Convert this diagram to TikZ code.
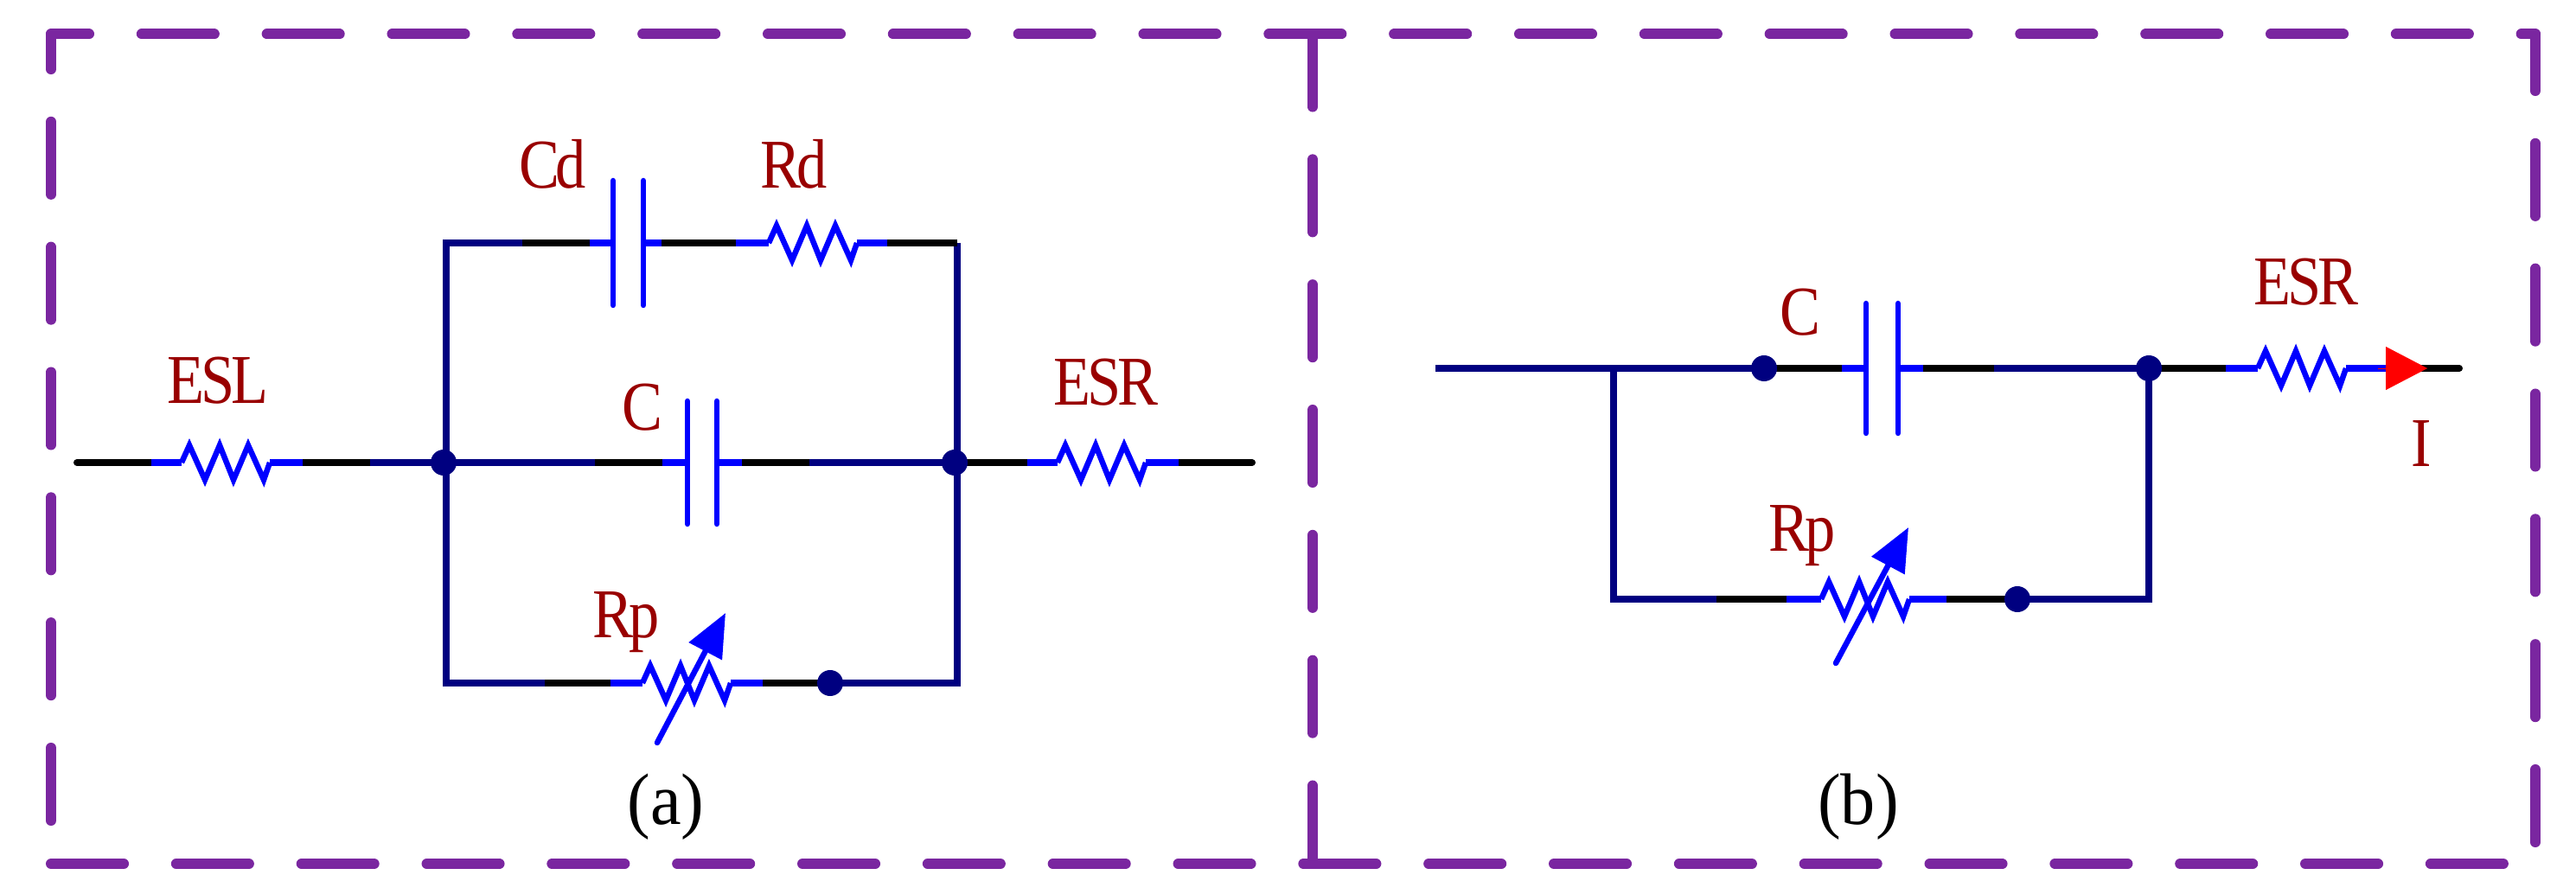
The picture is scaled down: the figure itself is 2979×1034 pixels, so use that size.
\documentclass[tikz,border=0pt]{standalone}
\usepackage{fontspec}
\setmainfont{Liberation Serif}
\newfontfamily\lblfont[LetterSpace=-6]{Liberation Serif}
\usetikzlibrary{arrows.meta}
\definecolor{framepurple}{RGB}{122,38,160}
\definecolor{wirenavy}{RGB}{0,0,128}
\definecolor{lblred}{RGB}{153,0,0}
\tikzset{
   framedash/.style={draw=framepurple,line width=0.12cm,line cap=round,dash pattern=on 0.84cm off 0.6075cm},
   wirek/.style={draw=black,line width=0.085cm},
   wiren/.style={draw=wirenavy,line width=0.08cm},
   wireb/.style={draw=blue,line width=0.085cm},
   plate/.style={draw=blue,line width=0.065cm,line cap=round},
   jdot/.style={circle,fill=wirenavy,inner sep=0pt,minimum size=0.3cm},
   lbl/.style={text=lblred,anchor=base,xscale=0.87,font=\fontsize{23}{25}\selectfont\lblfont},
   panelcap/.style={anchor=base,xscale=0.95,font=\fontsize{24}{26}\selectfont},
   zigres/.pic={\draw[plate,line cap=butt,line join=miter] (0,0) -- (9,-20) -- (27,20) -- (44,-20) -- (60,20) -- (77,-20) -- (95,20) -- (102,0);}
}
\begin{document}
\begin{tikzpicture}[x=0.01cm,y=-0.01cm]
   \useasboundingbox (0,0) rectangle (2979,1034);
   \coordinate (frTL) at (59,39.5);
   \coordinate (frTR) at (2932,39.5);
   \coordinate (frBL) at (59,999);
   \coordinate (frBR) at (2932,999);
   \coordinate (frTM) at (1518,39.5);
   \coordinate (frBM) at (1518,999);
   \draw[framedash,dash phase=0.40cm] (frTL) -- (frTR);
   \draw[framedash,dash phase=0.435cm] (frTL) -- (frBL);
   \draw[framedash] (frBL) -- (frBR);
   \draw[framedash,dash phase=0.185cm] (frTR) -- (frBR);
   \draw[framedash] (frTM) -- (frBM);
   \foreach \n/\x in {a0/89,a1/175,a2/210,a3/312,a4/350,a5/428,a6/688,a7/766,a8/795,a9/829,a10/858,a11/936,a12/1188,a13/1223,a14/1325,a15/1363,a16/1448,ja/513,jb/1104}
    \coordinate (\n) at (\x,535);
   \foreach \n/\x in {t0/516,t1/604,t2/682,t3/709,t4/744,t5/765,t6/851,t7/889,t8/991,t9/1026,t10/1107}
    \coordinate (\n) at (\x,281);
   \foreach \n/\x in {b0/516,b1/630,b2/706,b3/743,b4/845,b5/882,b6/946,jc/960,b7/1107}
    \coordinate (\n) at (\x,790);
   \foreach \n/\x in {c0/1660,c1/1866,jd/2040,c2/2130,c3/2158,c4/2195,c5/2224,c6/2306,je/2485,c7/2574,c8/2611,c9/2713,c10/2761,c11/2790,c12/2844}
    \coordinate (\n) at (\x,426);
   \foreach \n/\x in {d0/1866,d1/1985,d2/2066,d3/2106,d4/2208,d5/2251,jf/2333,d6/2485}
    \coordinate (\n) at (\x,693);
   \draw[wiren,line join=miter] (t1) -- (t0) -- (b0) -- (b1);
   \draw[wiren,line join=miter] (t10) -- (b7) -- (jc);
   \draw[wiren] (a5) -- (a6);
   \draw[wiren] (a11) -- (jb);
   \draw[wiren] (c0) -- (jd);
   \draw[wiren,line join=miter] (c1) -- (d0) -- (d1);
   \draw[wiren] (c6) -- (je);
   \draw[wiren,line join=miter] (je) -- (d6) -- (jf);
   \foreach \p/\q in {a1/a2,a3/a4,a7/a8,a9/a10,a12/a13,a14/a15,t2/t3,t4/t5,t6/t7,t8/t9,b2/b3,b4/b5,c2/c3,c4/c5,c7/c8,c9/c10,d2/d3,d4/d5}
    \draw[wireb] (\p) -- (\q);
   \foreach \p/\q in {a0/a1,a4/a5,a6/a7,a10/a11,jb/a12,a15/a16,t1/t2,t5/t6,t9/t10,b1/b2,b5/jc,jd/c2,c5/c6,je/c7,c11/c12,d1/d2,d5/jf}
    \draw[wirek] (\p) -- (\q);
   \fill[black] (a0) circle(4);
   \fill[black] (a16) circle(4);
   \fill[black] (c12) circle(4);
   \foreach \c in {a2,a13,t7,b3,c8,d3}
    \pic at (\c) {zigres};
   \foreach \c/\h in {t3/72,t4/72,a8/71,a9/71,c3/75,c4/75}
    \draw[plate] (\c) ++(0,-\h) -- ++(0,2*\h);
   \coordinate (rpaS) at (760,859);
   \coordinate (rpaE) at (839,709);
   \coordinate (rpbS) at (2123,767);
   \coordinate (rpbE) at (2207,610);
   \draw[plate,-{Triangle[length=0.5cm,width=0.42cm]}] (rpaS) -- (rpaE);
   \draw[plate,-{Triangle[length=0.5cm,width=0.42cm]}] (rpbS) -- (rpbE);
   \coordinate (iS) at (2750,426);
   \coordinate (iE) at (2807,426);
   \draw[red,line width=0.1pt,-{Triangle[length=0.48cm,width=0.5cm]}] (iS) -- (iE);
   \foreach \j in {ja,jb,jc,jd,je,jf}
    \node[jdot] (\j dot) at (\j) {};
   \node[lbl] (lblESLa) at (252,467) {ESL};
   \node[lbl] (lblCd) at (639,218) {Cd};
   \node[lbl] (lblRd) at (918,218) {Rd};
   \node[lbl] (lblCa) at (743,498) {C};
   \node[lbl] (lblESRa) at (1279,469) {ESR};
   \node[lbl] (lblRpa) at (724,737) {Rp};
   \node[lbl] (lblCb) at (2082,388) {C};
   \node[lbl] (lblESRb) at (2667,353) {ESR};
   \node[lbl] (lblRpb) at (2084,638) {Rp};
   \node[lbl] (lblI) at (2800,540) {I};
   \node[panelcap] (capa) at (770,953) {(a)};
   \node[panelcap] (capb) at (2149,953) {(b)};
\end{tikzpicture}
\end{document}
